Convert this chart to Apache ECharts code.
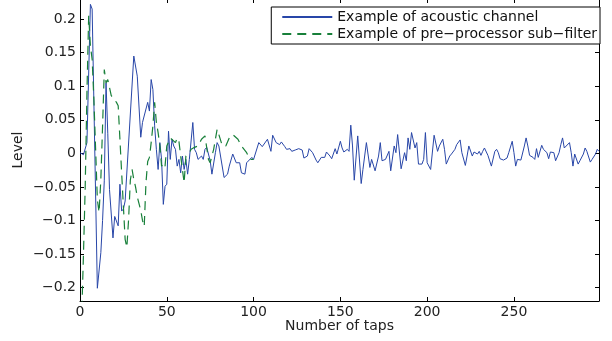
<!DOCTYPE html>
<html>
<head>
<meta charset="utf-8">
<script src="https://cdn.jsdelivr.net/npm/echarts@6/dist/echarts.min.js"></script>
<style>
  html, body { margin: 0; padding: 0; background: #fff; }
  #chart { width: 612px; height: 341px; }
</style>
</head>
<body>
<div id="chart"></div>
<script>
// acoustic channel impulse response
const chTaps = [0, 2, 4, 6, 7, 10, 12, 13, 14, 15, 16, 17, 19, 20, 22, 23, 24, 25, 26, 31,
  33, 35, 36, 37, 39, 40, 41, 42, 43, 44, 45, 46, 47, 48, 49, 50, 51, 52, 53, 54,
  55, 56, 57, 58, 59, 60, 61, 62, 63, 65, 66, 67, 68, 70, 71, 72, 73, 75, 76, 77,
  78, 79, 80, 81, 83, 85, 86, 88, 90, 92, 93, 95, 96, 97, 99, 100, 103, 105, 106, 108,
  110, 111, 113, 114, 115, 116, 118, 119, 121, 122, 124, 126, 128, 129, 131, 132, 134, 136, 137, 139,
  141, 142, 144, 145, 147, 148, 150, 151, 152, 154, 155, 156, 157, 158, 160, 162, 163, 165, 167, 168,
  170, 172, 173, 174, 176, 178, 179, 181, 182, 183, 185, 187, 188, 189, 190, 191, 193, 194, 195, 197,
  198, 199, 200, 202, 204, 206, 207, 209, 210, 211, 213, 214, 216, 217, 219, 220, 222, 223, 224, 226,
  227, 229, 230, 231, 232, 233, 235, 236, 237, 239, 240, 241, 242, 244, 246, 247, 248, 249, 250, 251,
  252, 254, 256, 257, 258, 259, 261, 262, 263, 264, 266, 267, 268, 269, 270, 271, 273, 274, 276, 277,
  278, 279, 280, 282, 283, 284, 285, 287, 288, 290, 291, 292, 294, 295, 297, 298, 299];
const chLevel = [0.001, -0.002, 0.016, 0.222, 0.215, -0.201, -0.148, -0.1, -0.04, 0.105, 0.03, -0.054, -0.126, -0.094, -0.108, -0.046, -0.086, -0.083, -0.071, 0.145,
  0.115, 0.024, 0.046, 0.046, 0.076, 0.063, 0.11, 0.095, 0.041, 0.006, -0.024, 0.016, -0.009, -0.076, -0.049, -0.046, 0.033, -0.009, 0.021, 0.011,
  0.006, -0.019, -0.009, -0.029, -0.004, -0.024, -0.009, -0.031, -0.009, 0.046, 0.006, 0.001, -0.009, -0.004, -0.009, 0.006, 0.009, -0.011, -0.031, -0.031,
  0.001, 0.016, 0.011, 0.011, -0.036, -0.031, -0.019, -0.001, -0.014, -0.014, -0.029, -0.031, -0.014, -0.014, -0.006, -0.009, 0.016, 0.01, 0.011, 0.021,
  0.003, 0.027, 0.016, 0.018, 0.013, 0.017, 0.01, 0.006, 0.007, 0.003, 0.005, 0.007, 0.005, -0.007, -0.004, 0.007, 0.001, -0.01, -0.014, -0.006,
  -0.006, 0.002, -0.004, -0.008, 0.007, -0.001, 0.018, 0.008, 0.002, 0.006, 0.003, 0.042, 0.011, -0.04, 0.026, -0.045, -0.024, 0.016, -0.021, -0.009,
  -0.026, -0.004, 0.016, -0.011, -0.009, 0.003, -0.026, 0.011, 0.001, 0.028, -0.023, 0.001, -0.011, 0.023, 0.006, 0.031, 0.008, 0.016, -0.016, -0.016,
  -0.009, 0.031, -0.014, -0.024, 0.027, 0.003, 0.011, 0.021, 0.006, -0.016, -0.004, -0.001, 0.006, 0.013, 0.02, 0.001, -0.018, -0.004, 0.011, -0.004,
  0.002, -0.001, 0.003, -0.003, 0.003, 0.008, -0.003, -0.004, -0.019, 0.003, 0.006, 0.001, -0.008, -0.01, -0.007, 0.001, 0.003, 0.018, 0.001, -0.019,
  -0.009, -0.01, 0.011, 0.023, 0.011, -0.003, -0.006, -0.009, 0.007, -0.006, 0.012, 0.006, 0.008, 0.001, -0.008, 0.002, 0.001, -0.011, 0.001, 0.013,
  0.023, 0.008, 0.007, 0.016, 0.001, -0.019, -0.001, -0.016, -0.011, -0.001, 0.008, 0.003, -0.013, -0.009, -0.001, 0.006, 0.003];

// pre-processor sub-filter
const pfTaps = [0, 1, 2, 3, 4, 5, 6, 7, 8, 9, 10, 11, 12, 13, 14, 15, 16, 17, 18, 19,
  20, 21, 22, 23, 24, 25, 26, 27, 28, 29, 30, 31, 32, 33, 34, 35, 36, 37, 38, 39,
  40, 41, 42, 43, 44, 45, 46, 47, 48, 49, 50, 52, 53, 55, 56, 57, 58, 59, 60, 61,
  63, 64, 66, 68, 70, 72, 74, 75, 77, 79, 80, 82, 84, 86, 88, 91, 93, 96, 98, 100];
const pfLevel = [-0.3, -0.24, -0.15, -0.05, 0.09, 0.205, 0.16, 0.14, 0.08, 0.006, -0.069, -0.088, -0.039, 0.04, 0.125, 0.105, 0.11, 0.11, 0.086, 0.083,
  0.081, 0.076, 0.071, 0.021, -0.029, -0.079, -0.128, -0.14, -0.098, -0.04, -0.024, -0.039, -0.05, -0.065, -0.075, -0.085, -0.1, -0.109, -0.044, -0.012,
  -0.006, 0.016, 0.041, 0.076, 0.046, 0.031, 0.011, -0.019, -0.014, -0.019, 0.011, 0.023, 0.021, 0.016, 0.023, 0.018, -0.004, -0.024, -0.044, -0.004,
  0.001, 0.006, 0.009, 0.011, 0.021, 0.026, -0.009, -0.014, 0.006, 0.036, 0.028, 0.011, 0.011, 0.023, 0.028, 0.021, 0.011, 0.001, -0.009, -0.009];

const xTicks = [0, 50, 100, 150, 200, 250];
const yTicks = [-0.2, -0.15, -0.1, -0.05, 0, 0.05, 0.1, 0.15, 0.2];

const font = 'DejaVu Sans';
const axisColor = '#000';

function minus(v) {
  return v < 0 ? '\u2212' + String(-v) : String(v);
}

function axisBase(ticks, showLabel) {
  return {
    type: 'value',
    axisLine: {show: true, onZero: false, lineStyle: {color: axisColor, width: 1}},
    axisTick: {show: true, inside: true, length: 4, customValues: ticks, lineStyle: {color: axisColor}},
    axisLabel: {
      show: showLabel,
      customValues: ticks,
      margin: 4,
      color: '#222',
      fontFamily: font,
      fontSize: 14,
      formatter: minus,
    },
    splitLine: {show: false},
  };
}

const chart = echarts.init(document.getElementById('chart'));
chart.setOption({
  animation: false,
  backgroundColor: '#fff',
  grid: {left: 80, right: 13, top: -1, bottom: 40, outerBoundsMode: 'none', containLabel: false},
  legend: {
    orient: 'vertical',
    right: 12,
    top: 7,
    itemWidth: 50,
    itemHeight: 14,
    itemGap: 3,
    padding: [3, 3, 3, 10],
    borderColor: '#000',
    borderWidth: 1,
    borderRadius: 0,
    backgroundColor: '#fff',
    itemStyle: {opacity: 0},
    textStyle: {fontFamily: font, fontSize: 14, color: '#111'},
    data: ['Example of acoustic channel', 'Example of pre\u2212processor sub\u2212filter'],
  },
  xAxis: [
    Object.assign(axisBase(xTicks, true), {
      min: 0, max: 299, position: 'bottom',
      name: 'Number of taps', nameLocation: 'middle', nameGap: 18, nameMoveOverlap: false,
      nameTextStyle: {fontFamily: font, fontSize: 14, color: '#222'},
    }),
    Object.assign(axisBase(xTicks, false), {min: 0, max: 299, position: 'top'}),
  ],
  yAxis: [
    Object.assign(axisBase(yTicks, true), {
      min: -0.22, max: 0.23, position: 'left',
      name: 'Level', nameLocation: 'middle', nameGap: 55, nameMoveOverlap: false,
      nameTextStyle: {fontFamily: font, fontSize: 14, color: '#222'},
    }),
    Object.assign(axisBase(yTicks, false), {min: -0.22, max: 0.23, position: 'right'}),
  ],
  series: [
    {
      name: 'Example of acoustic channel',
      type: 'line',
      symbol: 'none',
      color: '#2846a8',
      lineStyle: {width: 1, color: '#2846a8'},
      data: chTaps.map((t, i) => [t, chLevel[i]]),
    },
    {
      name: 'Example of pre\u2212processor sub\u2212filter',
      type: 'line',
      symbol: 'none',
      color: '#18803a',
      lineStyle: {width: 1.2, color: '#18803a', type: [9, 6]},
      data: pfTaps.map((t, i) => [t, pfLevel[i]]),
    },
  ],
});
</script>
</body>
</html>
